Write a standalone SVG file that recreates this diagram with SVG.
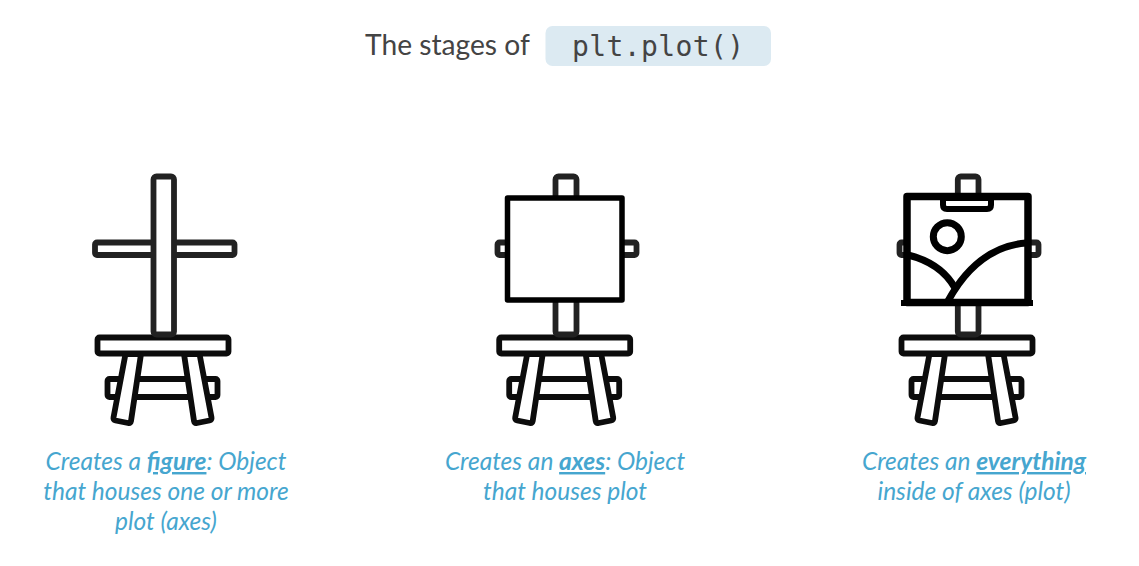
<svg xmlns="http://www.w3.org/2000/svg" width="1139" height="566" viewBox="0 0 1139 566">
<style>
.p{fill:#fff;stroke:#0c0c0c;stroke-width:5.8;stroke-linejoin:round}
.g{fill:#fff;stroke:#222;stroke-width:5.8;stroke-linejoin:round}
.h{fill:none;stroke:#000;stroke-width:7}
.c{font-family:"Lato","Liberation Sans",sans-serif;font-style:italic;font-size:24.5px;fill:#46a6cf;text-anchor:middle}
.c tspan.b{font-weight:700;text-decoration:underline}
</style>
<rect width="1139" height="566" fill="#fff"/>
<g id="title">
<rect x="545.500" y="26" width="225.500" height="40" rx="7" fill="#dceaf2"/>
<text x="365" y="55" font-family="Lato,'Liberation Sans',sans-serif" font-size="28.2" fill="#444">The stages of</text>
<text x="572" y="56" font-family="'DejaVu Sans Mono','Liberation Mono',monospace" font-size="28" letter-spacing="0.4" fill="#444">plt.plot()</text>
</g>
<g id="connectors"/>
<g id="easel-figure">
<rect class="p" x="107.500" y="379" width="110" height="18" rx="2"/>
<path class="p" d="M125.500 354L113.500 417.500Q113 420 115.500 420.500L128 423Q130.500 423.500 131 421L141 354Z"/>
<path class="p" d="M199.500 354L211.500 417.500Q212 420 209.500 420.500L197 423Q194.500 423.500 194 421L184 354Z"/>
<rect class="p" x="97.500" y="337.500" width="131" height="16" rx="2"/>
<rect class="g" x="95" y="242.500" width="139.500" height="12.500" rx="2"/>
<rect class="g" x="153.500" y="176.500" width="20.500" height="158" rx="3"/>
<text class="c" x="166" y="470">Creates a <tspan class="b">figure</tspan>: Object</text>
<text class="c" x="166" y="500">that houses one or more</text>
<text class="c" x="166" y="530">plot (axes)</text>
</g>
<g id="easel-axes">
<g transform="translate(401.700 0)">
<rect class="p" x="107.500" y="379" width="110" height="18" rx="2"/>
<path class="p" d="M125.500 354L113.500 417.500Q113 420 115.500 420.500L128 423Q130.500 423.500 131 421L141 354Z"/>
<path class="p" d="M199.500 354L211.500 417.500Q212 420 209.500 420.500L197 423Q194.500 423.500 194 421L184 354Z"/>
<rect class="p" x="97.500" y="337.500" width="131" height="16" rx="2"/>
</g>
<rect class="g" x="555.500" y="176.500" width="21" height="158" rx="3"/>
<rect class="g" x="497.500" y="242.500" width="139" height="12.500" rx="2"/>
<rect fill="#fff" stroke="#000" stroke-width="5.500" stroke-linejoin="round" x="507.500" y="198" width="114.500" height="102"/>
<text class="c" x="565" y="470">Creates an <tspan class="b">axes</tspan>: Object</text>
<text class="c" x="565" y="500">that houses plot</text>
</g>
<g id="easel-everything">
<g transform="translate(804 0)">
<rect class="p" x="107.500" y="379" width="110" height="18" rx="2"/>
<path class="p" d="M125.500 354L113.500 417.500Q113 420 115.500 420.500L128 423Q130.500 423.500 131 421L141 354Z"/>
<path class="p" d="M199.500 354L211.500 417.500Q212 420 209.500 420.500L197 423Q194.500 423.500 194 421L184 354Z"/>
<rect class="p" x="97.500" y="337.500" width="131" height="16" rx="2"/>
</g>
<rect class="g" x="957.800" y="176.500" width="20.700" height="158" rx="3"/>
<rect class="g" x="899.500" y="242.500" width="139" height="12.500" rx="2"/>
<rect fill="#fff" stroke="#000" stroke-width="7.500" stroke-linejoin="round" x="907" y="196.500" width="121" height="106"/>
<path d="M901 303H1033" fill="none" stroke="#000" stroke-width="6"/>
<path d="M943 198H991V205Q991 209 987 209H947Q943 209 943 205Z" fill="#fff" stroke="#000" stroke-width="6" stroke-linejoin="round"/>
<circle class="h" cx="947.300" cy="236.700" r="14"/>
<path class="h" d="M908 255Q941 263 955 288"/>
<path class="h" d="M1026 243C992 246 966 268 948 301"/>
<text class="c" x="974" y="470">Creates an <tspan class="b">everything</tspan></text>
<text class="c" x="974" y="500">inside of axes (plot)</text>
</g>
</svg>
